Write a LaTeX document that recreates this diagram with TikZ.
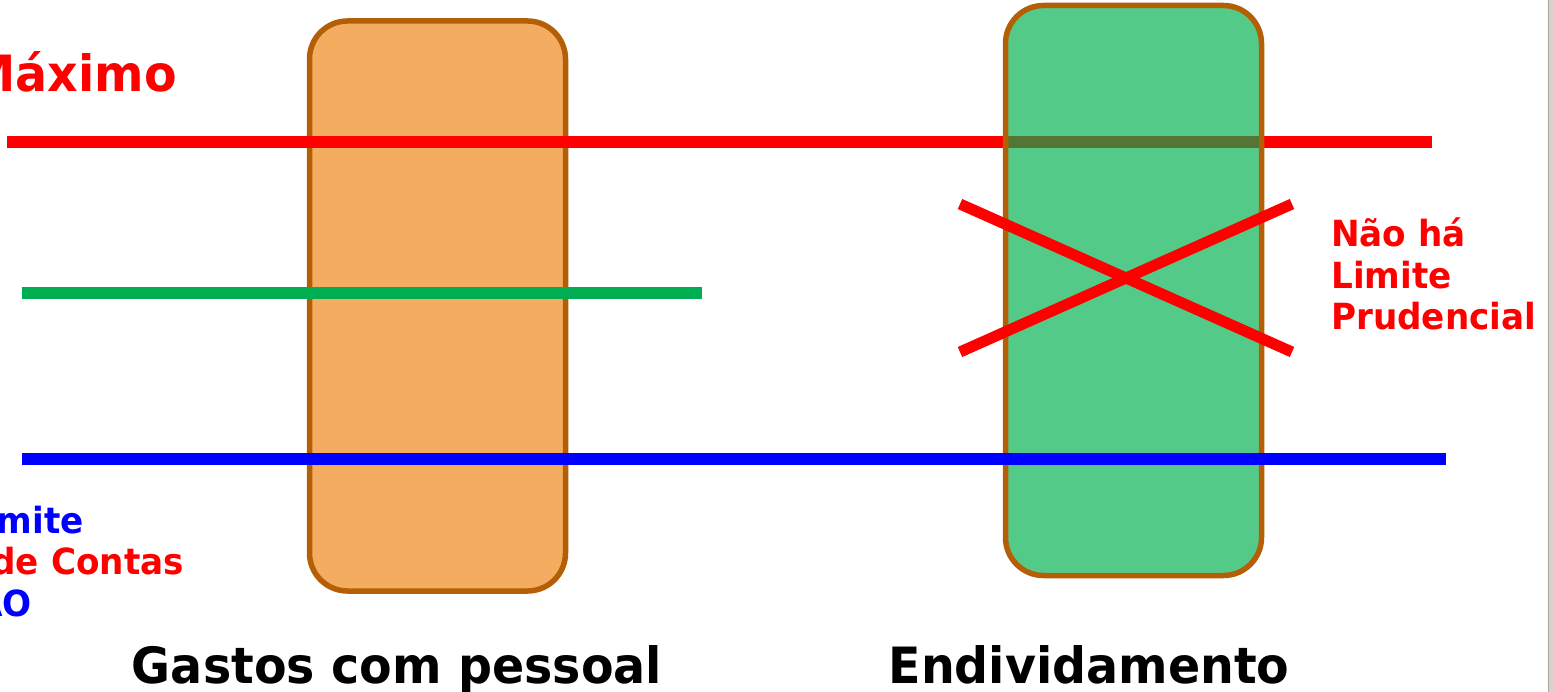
\documentclass[tikz,border=0pt]{standalone}
\usepackage{fontspec}
\newfontfamily\labelfont[FakeStretch=0.95]{DejaVu Sans}
\definecolor{boxedge}{HTML}{B45F06}
\definecolor{orangefill}{HTML}{F4AC60}
\definecolor{greenfill}{HTML}{00B050}
\definecolor{limitgreen}{HTML}{00AD50}
\definecolor{framegray}{HTML}{D6D3CE}
\definecolor{frameedge}{HTML}{A8A49C}
\tikzset{
  bar/.style={draw=boxedge, line width=5.5pt, rounded corners=38pt,
    minimum width=256pt, minimum height=570pt, inner sep=0pt, outer sep=0pt},
  limitline/.style={line width=12pt},
  cross/.style={draw=red, line width=11pt},
  biglabel/.style={font=\labelfont\bfseries\fontsize{50}{50}\selectfont, inner sep=0pt},
  smalllabel/.style={font=\labelfont\bfseries\fontsize{36}{36}\selectfont, inner sep=0pt},
}
\begin{document}
\begin{tikzpicture}[x=1pt,y=-1pt]
\useasboundingbox (0,0) rectangle (1554,692);
\fill[white] (0,0) rectangle (1554,692);

% window frame on the right
\fill[framegray] (1548,0) rectangle (1554,692);
\draw[frameedge, line width=1pt] (1548.5,0) -- (1548.5,692);

% end points of the limit lines
\coordinate (maxL) at (7,142);
\coordinate (maxR) at (1432,142);
\coordinate (prudL) at (22,293);
\coordinate (prudR) at (702,293);
\coordinate (alertL) at (22,459);
\coordinate (alertR) at (1446,459);

% personnel spending bar
\node[bar, fill=orangefill] (pessoal) at (437.5,306) {};

% maximum limit
\draw[limitline, red] (maxL) -- (maxR);

% debt bar (translucent)
\node[bar, fill=greenfill, fill opacity=0.67] (divida) at (1133.5,290.5) {};

% prudential and alert limits
\draw[limitline, limitgreen] (prudL) -- (prudR);
\draw[limitline, blue] (alertL) -- (alertR);

% no prudential limit for debt
\coordinate (xa) at (960,204);
\coordinate (xb) at (1292,352);
\coordinate (xc) at (960,352);
\coordinate (xd) at (1292,204);
\draw[cross] (xa) -- (xb);
\draw[cross] (xc) -- (xd);

% labels
\node[biglabel, text=red, anchor=base east] (maxtxt) at (177,92) {Máximo};
\node[smalllabel, text=red, anchor=base west] (nao1) at (1331,247) {Não há};
\node[smalllabel, text=red, anchor=base west] (nao2) at (1331,288.5) {Limite};
\node[smalllabel, text=red, anchor=base west] (nao3) at (1331,330) {Prudencial};
\node[smalllabel, text=blue, anchor=base east] (al1) at (84,533) {mite};
\node[smalllabel, text=red, anchor=base east] (al2) at (184,574.5) {de Contas};
\node[smalllabel, text=blue, anchor=base east] (al3) at (32,616) {AO};
\node[biglabel, anchor=base] (gastos) at (397,683) {Gastos com pessoal};
\node[biglabel, anchor=base] (endiv) at (1089,683) {Endividamento};
\end{tikzpicture}
\end{document}
